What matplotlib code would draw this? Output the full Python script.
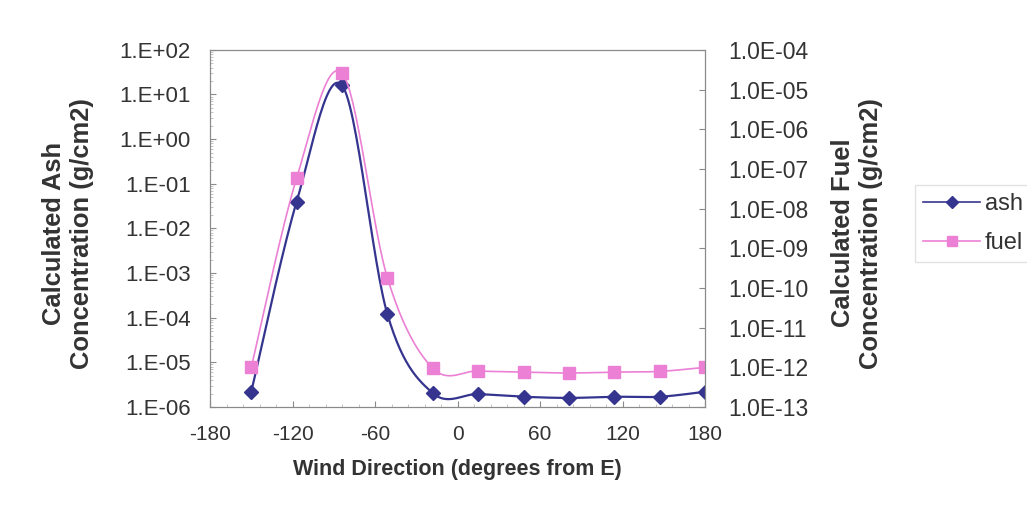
import matplotlib
matplotlib.use("Agg")
import matplotlib.pyplot as plt
from matplotlib.ticker import FixedLocator, FuncFormatter, MultipleLocator, LogLocator
import numpy as np

plt.rcParams['font.family'] = ['Liberation Sans', 'DejaVu Sans']
plt.rcParams['axes.unicode_minus'] = False

# data
wind_dir = [-150, -117, -84, -51, -18, 15, 48, 81, 114, 147, 180]
ash = [2.2e-6, 0.04, 16, 1.2e-4, 2.05e-6, 1.95e-6, 1.7e-6, 1.6e-6, 1.7e-6, 1.7e-6, 2.2e-6]
fuel = [1.0e-12, 5.9e-8, 2.6e-5, 1.8e-10, 9.5e-13, 8.1e-13, 7.6e-13, 7.2e-13, 7.6e-13, 7.9e-13, 1.0e-12]

ash_color = '#35358f'
fuel_color = '#ec80d4'
grey = '#8a8a8a'
txt = '#333333'


def smooth(x, y, n=30):
    # Excel style smoothed line (Catmull-Rom as Bezier), done in log space
    px = np.asarray(x, float)
    py = np.log10(np.asarray(y, float))
    P = np.column_stack([px, py])
    P = np.vstack([P[0], P, P[-1]])
    out = []
    t = np.linspace(0, 1, n)[:, None]
    for i in range(1, len(P) - 2):
        p0, p3 = P[i], P[i + 1]
        c1 = p0 + (P[i + 1] - P[i - 1]) / 6
        c2 = p3 - (P[i + 2] - P[i]) / 6
        seg = (1 - t) ** 3 * p0 + 3 * (1 - t) ** 2 * t * c1 + 3 * (1 - t) * t ** 2 * c2 + t ** 3 * p3
        out.append(seg)
    seg = np.vstack(out)
    return seg[:, 0], 10 ** seg[:, 1]


fig = plt.figure(figsize=(10.27, 5.3), dpi=100)
ax = fig.add_axes([0.2045, 0.232, 0.482, 0.674])
ax2 = ax.twinx()

sx, sy = smooth(wind_dir, ash)
ax.plot(sx, sy, color=ash_color, lw=1.6)
ax.plot(wind_dir, ash, ls='none', marker='D', ms=7, color=ash_color)
fx, fy = smooth(wind_dir, fuel)
ax2.plot(fx, fy, color=fuel_color, lw=1.2)
ax2.plot(wind_dir, fuel, ls='none', marker='s', ms=8, color=fuel_color)

ax.set_yscale('log')
ax.set_ylim(1e-6, 1e2)
ax2.set_yscale('log')
ax2.set_ylim(1e-13, 1e-4)
ax.set_xlim(-180, 180)
ax.xaxis.set_major_locator(MultipleLocator(60))
ax.xaxis.set_minor_locator(MultipleLocator(12))

ax.yaxis.set_major_locator(FixedLocator([10.0 ** e for e in range(-6, 3)]))
ax.yaxis.set_major_formatter(FuncFormatter(lambda v, p: "1.E%+03d" % round(np.log10(v))))
ax.yaxis.set_minor_locator(LogLocator(subs=np.arange(2, 10)))
ax2.yaxis.set_major_locator(FixedLocator([10.0 ** e for e in range(-13, -3)]))
ax2.yaxis.set_major_formatter(FuncFormatter(lambda v, p: "1.0E%+03d" % round(np.log10(v))))
ax2.yaxis.set_minor_locator(LogLocator(subs=np.arange(2, 10)))

for a in (ax, ax2):
    a.tick_params(which='major', direction='in', length=4, color=grey, labelcolor=txt)
    a.tick_params(which='minor', direction='in', length=2, color='#bbbbbb')
    for s in a.spines.values():
        s.set_color(grey)
ax.tick_params(axis='x', pad=13, labelsize=15)
ax.tick_params(axis='y', pad=14, labelsize=16)
ax2.tick_params(axis='y', pad=17, labelsize=16.5)
ax.set_facecolor('white')

ax.set_xlabel("Wind Direction (degrees from E)", fontsize=15.5, fontweight='bold',
              color=txt, labelpad=11)
fig.text(68 / 1027, 0.560, "Calculated Ash\nConcentration (g/cm2)", rotation=90,
         fontsize=18.4, fontweight='bold', color=txt, ha='center', va='center',
         multialignment='center', linespacing=1.2)
fig.text(857 / 1027, 0.560, "Calculated Fuel\nConcentration (g/cm2)", rotation=90,
         fontsize=18.4, fontweight='bold', color=txt, ha='center', va='center',
         multialignment='center', linespacing=1.2)

h1 = plt.Line2D([], [], color=ash_color, marker='D', ms=6, lw=1.2)
h2 = plt.Line2D([], [], color=fuel_color, marker='s', ms=7, lw=1.2)
leg = fig.legend([h1, h2], ['ash', 'fuel'], loc='upper left', bbox_to_anchor=(915 / 1027, 1 - 185 / 530),
                 frameon=True, fontsize=17, handlelength=2.4, labelspacing=0.7,
                 borderaxespad=0, fancybox=False, handletextpad=0.2, borderpad=0.35)
leg.get_frame().set_edgecolor('#dddddd')
for t in leg.get_texts():
    t.set_color(txt)

fig.savefig('out.png', dpi=100)
